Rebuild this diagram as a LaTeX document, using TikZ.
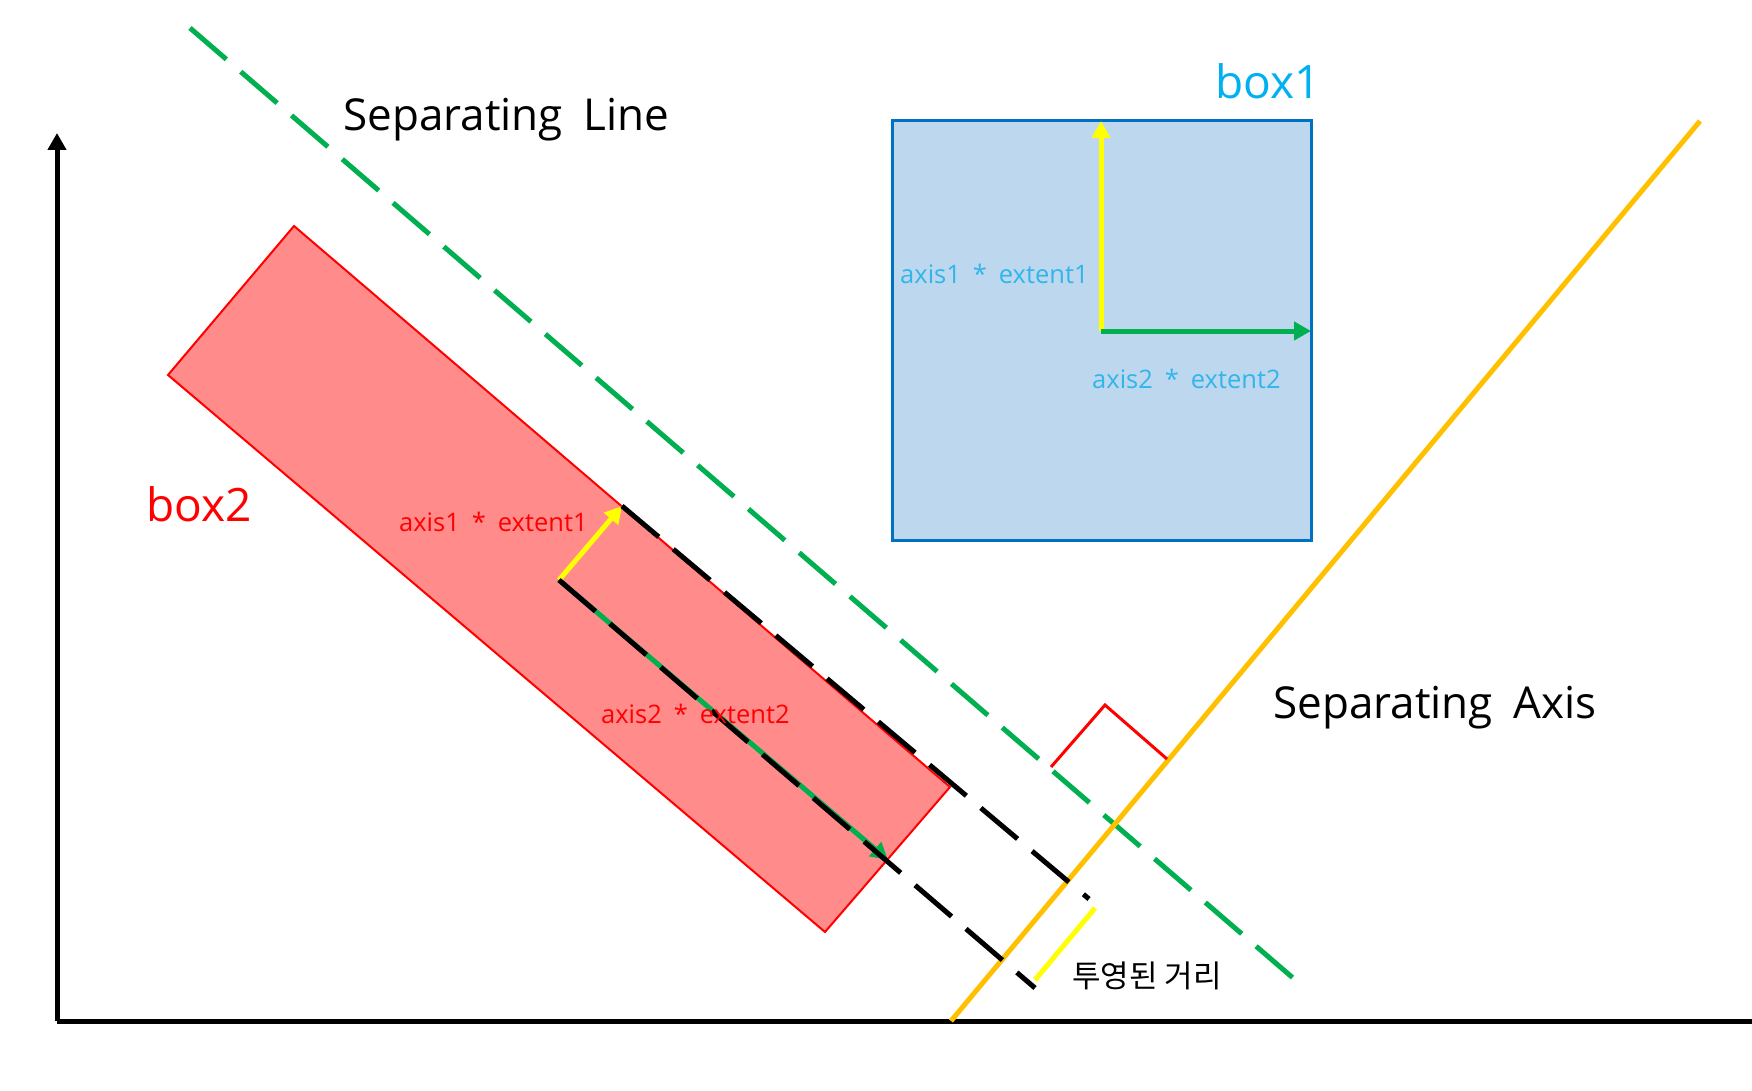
\documentclass[tikz,border=0pt]{standalone}
\usepackage{fontspec}
\setmainfont[WordSpace=1.8]{Open Sans}
\newfontfamily\kofont{Noto Sans CJK KR}
\usetikzlibrary{arrows.meta}
\definecolor{sepgreen}{HTML}{00B050}
\definecolor{axisorange}{HTML}{FFC000}
\definecolor{boxonefill}{HTML}{BDD7EE}
\definecolor{boxoneline}{HTML}{0070C0}
\definecolor{boxonetext}{HTML}{00B0F0}
\definecolor{axisonetext}{HTML}{30B6EA}
\definecolor{boxtwofill}{HTML}{FF8B8B}
\definecolor{projyellow}{HTML}{FFFF00}

\begin{document}
\begin{tikzpicture}[x=1pt, y=-1pt, >={Triangle[length=17pt,width=18pt]},
    thick line/.style={line width=5pt},
    long dash/.style={line width=5pt, dash pattern=on 48pt off 19pt},
    txt/.style={inner sep=0pt, anchor=base west}]

    \useasboundingbox (0,0) rectangle (1752,1091);

    % points
    \coordinate (o) at (57,1021);
    \coordinate (ytip) at (57,133);
    \coordinate (xend) at (1752,1021);
    \coordinate (sl1) at (190,28);
    \coordinate (sl2) at (1293,978);
    \coordinate (sa1) at (951,1021);
    \coordinate (sa2) at (1700,121);
    \coordinate (b2a) at (294,226);
    \coordinate (b2b) at (168,375);
    \coordinate (b2c) at (825,932);
    \coordinate (b2d) at (950,787);
    \coordinate (c2) at (559,580);
    \coordinate (m1) at (622,506);
    \coordinate (m2) at (888,860);
    \coordinate (e1) at (1089,899);
    \coordinate (e2) at (1035,988);
    \coordinate (p1) at (1035,980);
    \coordinate (p2) at (1095,908);
    \coordinate (r1) at (1051,767);
    \coordinate (r2) at (1105,705);
    \coordinate (r3) at (1167,759);
    \coordinate (c1) at (1101,331);
    \coordinate (c1up) at (1101,121);
    \coordinate (c1right) at (1311,331);

    % box2
    \draw[red, line width=2pt, fill=boxtwofill] (b2a) -- (b2b) -- (b2c) -- (b2d) -- cycle;
    \draw[thick line, sepgreen, ->] (c2) -- (m2);
    \draw[thick line, projyellow, ->] (c2) -- (m1);

    % box1
    \draw[boxoneline, line width=3pt, fill=boxonefill] (892,121) rectangle (1311,540);
    \draw[thick line, projyellow, ->] (c1) -- (c1up);
    \draw[thick line, sepgreen, ->] (c1) -- (c1right);

    % axes
    \draw[thick line, ->] (o) -- (ytip);
    \draw[thick line] (o) -- (xend);

    % lines
    \draw[long dash, sepgreen] (sl1) -- (sl2);
    \draw[thick line, axisorange] (sa1) -- (sa2);
    \draw[long dash, black] (m1) -- (e1);
    \draw[long dash, black] (c2) -- (e2);
    \draw[thick line, projyellow] (p1) -- (p2);
    \draw[red, line width=3pt] (r1) -- (r2) -- (r3);

    % labels
    \node[txt, font=\fontsize{44}{52}\selectfont] (sline) at (343,131) {Separating Line};
    \node[txt, font=\fontsize{44}{52}\selectfont] (saxis) at (1273,718) {Separating Axis};
    \node[txt, boxonetext, font=\fontsize{46}{54}\selectfont] (lbox1) at (1215,99) {box1};
    \node[txt, red, font=\fontsize{46}{54}\selectfont] (lbox2) at (146,521) {box2};
    \node[txt, red, font=\fontsize{25.5}{30}\selectfont] (ax2a) at (399,531) {axis1 * extent1};
    \node[txt, red, font=\fontsize{25.5}{30}\selectfont] (ax2b) at (601,723) {axis2 * extent2};
    \node[txt, axisonetext, font=\fontsize{25.5}{30}\selectfont] (ax1a) at (900,283) {axis1 * extent1};
    \node[txt, axisonetext, font=\fontsize{25.5}{30}\selectfont] (ax1b) at (1092,388) {axis2 * extent2};
    \node[txt, font=\kofont\fontsize{31}{36}\selectfont] (dist) at (1072,987) {투영된 거리};
\end{tikzpicture}
\end{document}
